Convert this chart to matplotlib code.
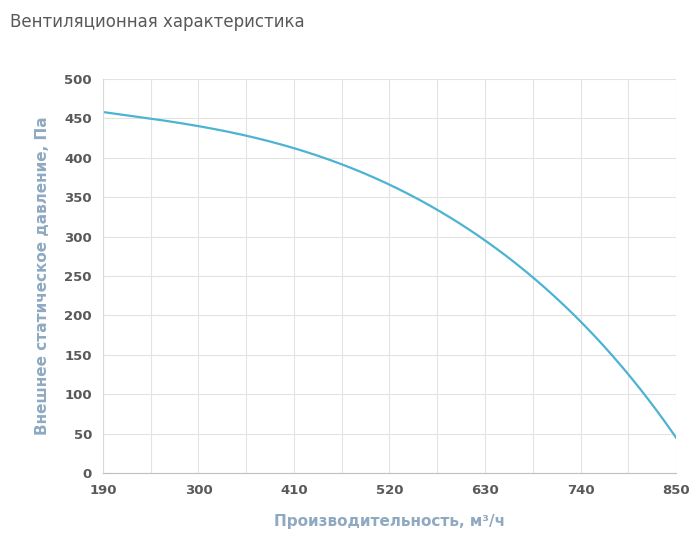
import matplotlib
matplotlib.use("Agg")
import matplotlib.pyplot as plt
import numpy as np

flow = [190, 245, 300, 355, 410, 465, 520, 575, 630, 685, 740, 795, 850]
pressure = [458, 450, 440, 428, 412, 392, 366, 334, 295, 248, 193, 125, 45]
xticks = [190, 300, 410, 520, 630, 740, 850]
xgrid = [245, 355, 465, 575, 685, 795]

fig = plt.figure(figsize=(7, 5.43), dpi=100)
ax = fig.add_axes([103/700, 1-473/543, (676-103)/700, (473-79)/543])
xs = np.linspace(190, 850, 300)
coef = np.polyfit(flow, pressure, 5)
ax.plot(xs, np.polyval(coef, xs), color="#4db3d3", lw=1.6)
ax.set_xlim(190, 850)
ax.set_ylim(0, 500)
ax.set_xticks(xticks)
ax.set_xticks(xgrid, minor=True)
ax.set_yticks(range(0, 501, 50))
ax.grid(True, which="both", color="#e3e3e3", lw=0.8)
ax.tick_params(which="both", length=0, labelsize=9.5, colors="#595959", pad=8)
for lab in ax.get_xticklabels() + ax.get_yticklabels():
    lab.set_fontweight("bold")
for s in ["top", "right"]:
    ax.spines[s].set_visible(False)
ax.spines["left"].set_color("#d9d9d9")
ax.spines["bottom"].set_color("#bfbfbf")
ax.set_xlabel("Производительность, м³/ч", color="#8ea9c1", fontsize=11, labelpad=12, fontweight="bold")
ax.set_ylabel("Внешнее статическое давление, Па", color="#8ea9c1", fontsize=11, labelpad=10, fontweight="bold")
fig.text(10/700, 1-22/543, "Вентиляционная характеристика", color="#595959", fontsize=12, va="center")
fig.savefig("out.png")
